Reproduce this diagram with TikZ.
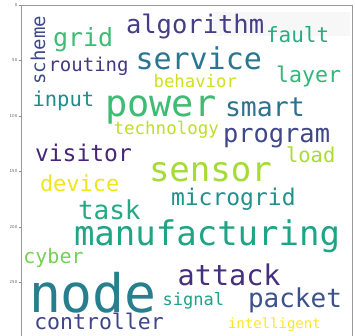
\documentclass[tikz,border=0pt]{standalone}
\usepackage{fontspec}
\newfontfamily\wcfont{DejaVu Sans Mono}
\newfontfamily\axfont{DejaVu Sans}
\definecolor{cScheme}{HTML}{3E4A89}
\definecolor{cGrid}{HTML}{3DBC74}
\definecolor{cAlgo}{HTML}{433E85}
\definecolor{cFault}{HTML}{27AD81}
\definecolor{cRouting}{HTML}{443A83}
\definecolor{cService}{HTML}{2A768E}
\definecolor{cBehavior}{HTML}{D0E11C}
\definecolor{cLayer}{HTML}{35B779}
\definecolor{cInput}{HTML}{228C8D}
\definecolor{cPower}{HTML}{3EBC73}
\definecolor{cSmart}{HTML}{2C728E}
\definecolor{cTech}{HTML}{BDDF26}
\definecolor{cProgram}{HTML}{3F4788}
\definecolor{cVisitor}{HTML}{482677}
\definecolor{cLoad}{HTML}{AADC32}
\definecolor{cDevice}{HTML}{F1E51D}
\definecolor{cSensor}{HTML}{A5DB36}
\definecolor{cTask}{HTML}{23A983}
\definecolor{cMicro}{HTML}{21918C}
\definecolor{cManu}{HTML}{20A486}
\definecolor{cCyber}{HTML}{75D054}
\definecolor{cAttack}{HTML}{46307E}
\definecolor{cNode}{HTML}{277F8E}
\definecolor{cSignal}{HTML}{1FA187}
\definecolor{cPacket}{HTML}{3B528B}
\definecolor{cCtrl}{HTML}{404588}
\definecolor{cIntel}{HTML}{FDE725}
\begin{document}
\begin{tikzpicture}[x=1pt,y=-1pt,
  wd/.style 2 args={font=\wcfont\fontsize{#1}{#1}\selectfont, text=#2, anchor=base west, inner sep=0pt, outer sep=0pt},
  spine/.style={draw=black!40, line width=0.6pt},
  tick/.style={draw=black!45, line width=0.4pt},
  ticklab/.style={font=\axfont\fontsize{4}{4}\selectfont, text=black!60, anchor=east, inner sep=0pt}]
\useasboundingbox[fill=white] (0,0) rectangle (355,336);
\fill[black!3] (213,12) rectangle (350,36);
% axes
\draw[spine] (21,336) -- (21,5) -- (352,5) -- (352,336);
\foreach \v/\y in {0/5,50/60.5,100/116,150/171.5,200/227,250/282.5}{
  \draw[tick] (18.5,\y) -- (21,\y);
  \node[ticklab] (t\v) at (17.5,\y) {\v};
}
% words
\node[wd={19}{cScheme}, rotate=90] (scheme) at (45,84.5) {scheme};
\node[wd={25}{cGrid}] (grid) at (53,47) {grid};
\node[wd={25.5}{cAlgo}] (algorithm) at (126,34) {algorithm};
\node[wd={21}{cFault}] (fault) at (266,43) {fault};
\node[wd={19}{cRouting}] (routing) at (48.5,72) {routing};
\node[wd={30}{cService}] (service) at (135.5,70) {service};
\node[wd={17.3}{cBehavior}] (behavior) at (153.6,88) {behavior};
\node[wd={21.6}{cLayer}] (layer) at (276,83) {layer};
\node[wd={20.5}{cInput}] (input) at (32.5,107) {input};
\node[wd={37}{cPower}] (power) at (105,116.5) {power};
\node[wd={26.5}{cSmart}] (smart) at (225,117) {smart};
\node[wd={17.5}{cTech}] (technology) at (113.6,135) {technology};
\node[wd={25.4}{cProgram}] (program) at (223,143) {program};
\node[wd={23}{cVisitor}] (visitor) at (35,162) {visitor};
\node[wd={20.5}{cLoad}] (load) at (286,163) {load};
\node[wd={22}{cDevice}] (device) at (40,192) {device};
\node[wd={34}{cSensor}] (sensor) at (149,182) {sensor};
\node[wd={26}{cTask}] (task) at (78,219) {task};
\node[wd={23}{cMicro}] (microgrid) at (171,206) {microgrid};
\node[wd={34}{cManu}] (manufacturing) at (74,245.5) {manufacturing};
\node[wd={20}{cCyber}] (cyber) at (23.4,263) {cyber};
\node[wd={28.5}{cAttack}] (attack) at (177.7,285) {attack};
\node[wd={53}{cNode}] (node) at (29,312.5) {node};
\node[wd={17}{cSignal}] (signal) at (162.6,305) {signal};
\node[wd={26}{cPacket}] (packet) at (248,307) {packet};
\node[wd={21.5}{cCtrl}] (controller) at (34.3,329) {controller};
\node[wd={14}{cIntel}] (intelligent) at (228,328) {intelligent};
\end{tikzpicture}
\end{document}
